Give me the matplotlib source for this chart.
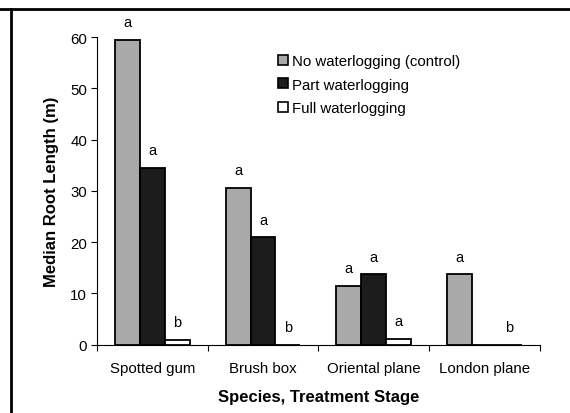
import matplotlib
matplotlib.use("Agg")
import matplotlib.pyplot as plt
from matplotlib.lines import Line2D
from matplotlib.patches import Patch
import numpy as np

plt.rcParams['font.family'] = ['Liberation Sans', 'DejaVu Sans']

species = ["Spotted gum", "Brush box", "Oriental plane", "London plane"]
series_names = ["No waterlogging (control)", "Part waterlogging", "Full waterlogging"]
control = [59.5, 30.6, 11.5, 13.8]
part = [34.5, 21.0, 13.8, 0.0]
full = [1.0, 0.0, 1.2, 0.0]
control_letters = ["a", "a", "a", "a"]
part_letters = ["a", "a", "a", ""]
full_letters = ["b", "b", "a", "b"]
yticks = [0, 10, 20, 30, 40, 50, 60]

values = [control, part, full]
letters = [control_letters, part_letters, full_letters]
colors = ["#a9a9a9", "#1c1c1c", "#ffffff"]

fig = plt.figure(figsize=(5.70, 4.14), dpi=100)
ax = fig.add_axes([0.170, 0.165, 0.777, 0.743])

x = np.arange(len(species))
w = 0.225
for i, (vals, labs, col) in enumerate(zip(values, letters, colors)):
    xs = x + (i - 1) * w
    ax.bar(xs, vals, width=w, color=col, edgecolor="black", linewidth=1.3,
           label=series_names[i], zorder=3)
    for xi, v, lab in zip(xs, vals, labs):
        if lab:
            ax.annotate(lab, (xi, v), xytext=(0, 12.5), textcoords="offset points",
                        ha="center", va="center", fontsize=10.5, annotation_clip=False)

ax.set_xlim(-0.5, 3.5)
ax.set_ylim(0, 60)
ax.set_yticks(yticks)
ax.tick_params(axis="y", direction="out", length=4, labelsize=10.8, pad=3)
ax.set_xticks(np.arange(len(species) + 1) - 0.5)
ax.set_xticklabels([])
ax.tick_params(axis="x", which="major", direction="out", length=4)
ax.set_xticks(x, minor=True)
ax.set_xticklabels(species, minor=True, fontsize=10.8)
ax.tick_params(axis="x", which="minor", length=0, pad=12)
for s in ["top", "right"]:
    ax.spines[s].set_visible(False)
ax.spines["left"].set_linewidth(0.8)
ax.spines["bottom"].set_linewidth(0.8)

ax.set_xlabel("Species, Treatment Stage", fontsize=12, fontweight="bold", labelpad=10)
ax.set_ylabel("Median Root Length (m)", fontsize=12, fontweight="bold", labelpad=8)

handles = [Patch(facecolor=c, edgecolor="black", linewidth=1.2) for c in colors]
ax.legend(handles, series_names, loc="upper left", bbox_to_anchor=(0.395, 0.965),
          frameon=False, fontsize=10.8, handlelength=0.65, handleheight=0.65,
          handletextpad=0.3, labelspacing=0.65, borderaxespad=0)

fig.add_artist(Line2D([0, 1], [1 - 10 / 414, 1 - 10 / 414], color="black", linewidth=2,
                      transform=fig.transFigure))
fig.add_artist(Line2D([11 / 570, 11 / 570], [0, 1 - 10 / 414], color="black", linewidth=2,
                      transform=fig.transFigure))

fig.savefig("out.png", dpi=100, facecolor="white")
